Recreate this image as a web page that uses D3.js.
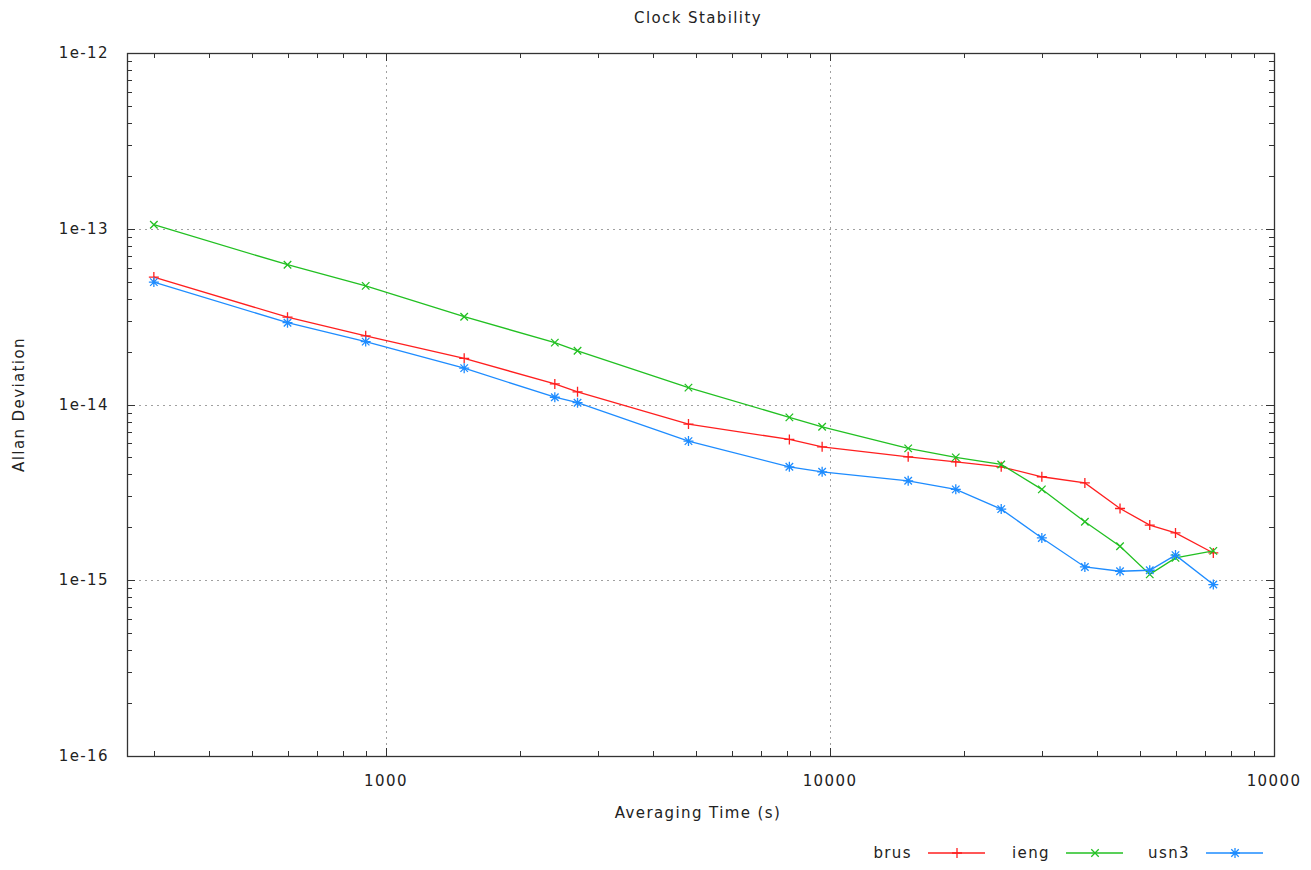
<!DOCTYPE html>
<html>
<head>
<meta charset="utf-8">
<script src="https://cdn.jsdelivr.net/npm/d3@7"></script>
<style>
body { margin: 0; background: #fff; }
svg text { font-family: "DejaVu Sans", sans-serif; fill: #222; letter-spacing: 1.4px; }
</style>
</head>
<body>
<svg id="chart" width="1311" height="870"></svg>
<script>
"use strict";

const topLeftX = 127;
const topLeftY = 53;
const bottomRightX = 1274;
const bottomRightY = 756;

const TAU = [300, 600, 900, 1500, 2400, 2700, 4800, 8100, 9600, 15000, 19200, 24300,
             30000, 37500, 45000, 52500, 60000, 73000];
const BRUS = [5.31e-14, 3.14e-14, 2.46e-14, 1.83e-14, 1.31e-14, 1.18e-14, 7.74e-15, 6.33e-15,
              5.74e-15, 5.04e-15, 4.72e-15, 4.42e-15, 3.88e-15, 3.58e-15, 2.56e-15, 2.06e-15,
              1.86e-15, 1.43e-15];
const IENG = [1.054e-13, 6.24e-14, 4.73e-14, 3.16e-14, 2.25e-14, 2.02e-14, 1.247e-14, 8.45e-15,
              7.47e-15, 5.63e-15, 5.00e-15, 4.56e-15, 3.29e-15, 2.15e-15, 1.56e-15, 1.08e-15,
              1.34e-15, 1.47e-15];
const USN3 = [4.97e-14, 2.92e-14, 2.28e-14, 1.61e-14, 1.10e-14, 1.024e-14, 6.19e-15, 4.42e-15,
              4.14e-15, 3.68e-15, 3.29e-15, 2.54e-15, 1.74e-15, 1.19e-15, 1.125e-15, 1.14e-15,
              1.39e-15, 9.45e-16];
const SERIES_NAMES = ["brus", "ieng", "usn3"];
const SERIES_COLORS = ["#ff1f1f", "#22c022", "#1e8cff"];
const SERIES_MARKERS = ["plus", "cross", "star"];
const X_TICKS = [1000, 10000, 100000];
const X_TICK_LABELS = ["1000", "10000", "10000"];
const Y_TICKS = [1e-12, 1e-13, 1e-14, 1e-15, 1e-16];
const Y_TICK_LABELS = ["1e-12", "1e-13", "1e-14", "1e-15", "1e-16"];

window.addEventListener("load", init);
var xScale, yScale;
const FONT_SIZE = 15;

function markerPath(kind, cx, cy) {
    let r = 5;
    let p = d3.path();
    if (kind === "plus" || kind === "star") {
        p.moveTo(cx - r, cy); p.lineTo(cx + r, cy);
        p.moveTo(cx, cy - r); p.lineTo(cx, cy + r);
    }
    if (kind === "cross" || kind === "star") {
        let d = r * 0.75;
        p.moveTo(cx - d, cy - d); p.lineTo(cx + d, cy + d);
        p.moveTo(cx - d, cy + d); p.lineTo(cx + d, cy - d);
    }
    return p.toString();
}

function minorTicks(lo, hi) {
    let out = [];
    for (let e = Math.floor(Math.log10(lo)); e <= Math.ceil(Math.log10(hi)); e++) {
        for (let m = 2; m <= 9; m++) {
            let v = m * Math.pow(10, e);
            if (v > lo && v < hi) out.push(v);
        }
    }
    return out;
}

function drawFrame(svg) {
    const frame = svg.append("g");
    const xd = xScale.domain(), yd = yScale.domain();
    const grid = frame.append("g")
        .attr("stroke", "#a0a0a0").attr("stroke-width", 1).attr("stroke-dasharray", "2,4");
    X_TICKS.forEach(t => {
        if (t >= xd[1]) return;
        grid.append("line").attr("x1", Math.round(xScale(t)) + 0.5).attr("x2", Math.round(xScale(t)) + 0.5)
            .attr("y1", topLeftY).attr("y2", bottomRightY);
    });
    Y_TICKS.forEach(t => {
        if (t >= yd[1] || t <= yd[0]) return;
        grid.append("line").attr("y1", Math.round(yScale(t)) + 0.5).attr("y2", Math.round(yScale(t)) + 0.5)
            .attr("x1", topLeftX).attr("x2", bottomRightX);
    });

    const ticks = frame.append("g").attr("stroke", "#333").attr("stroke-width", 1);
    const xt = X_TICKS.filter(t => t < xd[1]).map(t => [t, 8]).concat(minorTicks(xd[0], xd[1]).map(t => [t, 5]));
    xt.forEach(([t, len]) => {
        let x = Math.round(xScale(t)) + 0.5;
        ticks.append("line").attr("x1", x).attr("x2", x).attr("y1", bottomRightY).attr("y2", bottomRightY - len);
        ticks.append("line").attr("x1", x).attr("x2", x).attr("y1", topLeftY).attr("y2", topLeftY + len);
    });
    const yt = Y_TICKS.map(t => [t, 8]).concat(minorTicks(yd[0], yd[1]).map(t => [t, 5]));
    yt.forEach(([t, len]) => {
        let y = Math.round(yScale(t)) + 0.5;
        ticks.append("line").attr("y1", y).attr("y2", y).attr("x1", topLeftX).attr("x2", topLeftX + len);
        ticks.append("line").attr("y1", y).attr("y2", y).attr("x1", bottomRightX).attr("x2", bottomRightX - len);
    });

    frame.append("rect")
        .attr("x", topLeftX + 0.5).attr("y", topLeftY + 0.5)
        .attr("width", bottomRightX - topLeftX).attr("height", bottomRightY - topLeftY)
        .attr("fill", "none").attr("stroke", "#333").attr("stroke-width", 1.3);

    // tick labels
    X_TICKS.forEach((t, i) => {
        frame.append("text").attr("x", xScale(t)).attr("y", bottomRightY + 30)
            .attr("text-anchor", "middle").attr("font-size", FONT_SIZE).text(X_TICK_LABELS[i]);
    });
    Y_TICKS.forEach((t, i) => {
        frame.append("text").attr("x", 109).attr("y", yScale(t) + 5)
            .attr("text-anchor", "end").attr("font-size", FONT_SIZE).text(Y_TICK_LABELS[i]);
    });
}

function drawSeries(svg, values, idx) {
    const color = SERIES_COLORS[idx];
    const pts = TAU.map((t, i) => [xScale(t), yScale(values[i])]);
    const g = svg.append("g").attr("class", "series-" + SERIES_NAMES[idx]);
    g.append("path")
        .attr("d", d3.line()(pts))
        .attr("fill", "none").attr("stroke", color).attr("stroke-width", 1.3);
    g.selectAll("path.marker")
        .data(pts)
        .join("path")
        .attr("class", "marker")
        .attr("d", p => markerPath(SERIES_MARKERS[idx], p[0], p[1]))
        .attr("fill", "none").attr("stroke", color).attr("stroke-width", 1.3);
}

function drawLegend(svg) {
    const legendY = 853;
    const textRight = [912, 1050, 1190];
    const g = svg.append("g");
    SERIES_NAMES.forEach((name, i) => {
        let x0 = textRight[i] + 16;
        g.append("text").attr("x", textRight[i]).attr("y", legendY + 5)
            .attr("text-anchor", "end").attr("font-size", FONT_SIZE).text(name);
        g.append("line").attr("x1", x0).attr("x2", x0 + 57)
            .attr("y1", legendY).attr("y2", legendY)
            .attr("stroke", SERIES_COLORS[i]).attr("stroke-width", 1.3);
        g.append("path").attr("d", markerPath(SERIES_MARKERS[i], x0 + 29, legendY))
            .attr("fill", "none").attr("stroke", SERIES_COLORS[i]).attr("stroke-width", 1.3);
    });
}

function init() {
    // data to SVG coordinate transforms
    xScale = d3.scaleLog()
        .domain([261, 100000])
        .range([topLeftX, bottomRightX]);
    yScale = d3.scaleLog()
        .domain([1e-16, 1e-12])
        .range([bottomRightY, topLeftY]);

    const svg = d3.select("#chart");
    drawFrame(svg);
    [BRUS, IENG, USN3].forEach((vals, i) => drawSeries(svg, vals, i));
    drawLegend(svg);

    svg.append("text").attr("x", 698).attr("y", 23)
        .attr("text-anchor", "middle").attr("font-size", FONT_SIZE).text("Clock Stability");
    svg.append("text").attr("x", 698).attr("y", 818)
        .attr("text-anchor", "middle").attr("font-size", FONT_SIZE).text("Averaging Time (s)");
    svg.append("text")
        .attr("transform", "translate(24," + yScale(1e-14) + ") rotate(-90)")
        .attr("text-anchor", "middle").attr("font-size", FONT_SIZE).text("Allan Deviation");
}
</script>
</body>
</html>
